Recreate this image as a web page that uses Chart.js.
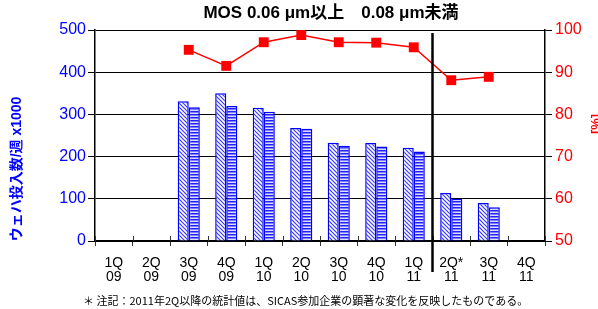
<!DOCTYPE html>
<html>
<head>
<meta charset="utf-8">
<script src="https://cdn.jsdelivr.net/npm/chart.js@4/dist/chart.umd.min.js"></script>
<style>
html,body{margin:0;padding:0;background:#fff;}
#wrap{width:598px;height:309px;position:relative;}
</style>
</head>
<body>
<div id="wrap"><canvas id="c" width="598" height="309"></canvas></div>
<script>
const quarters = ['1Q','2Q','3Q','4Q','1Q','2Q','3Q','4Q','1Q','2Q*','3Q','4Q'];
const years = ['09','09','09','09','10','10','10','10','11','11','11','11'];
const capacityA = [null, null, 331, 350, 316, 268, 233, 232, 221, 114, 90, null];
const capacityB = [null, null, 317, 320, 306, 266, 226, 224, 212, 100, 80, null];
const utilization = [null, null, 95.3, 91.5, 97.1, 98.8, 97.1, 97.0, 95.9, 88.1, 88.9, null];
const leftTicks = [0, 100, 200, 300, 400, 500];
const rightTicks = [50, 60, 70, 80, 90, 100];
const titleText = 'MOS 0.06 μm以上\u30000.08 μm未満';
const leftTitle = 'ウェハ投入数/週 x1000';
const rightTitle = '[%]';
const footnote = '＊ 注記：2011年2Q以降の統計値は、SICAS参加企業の顕著な変化を反映したものである。';

const labels = quarters.map((q, i) => [q, years[i]]);

function diagPattern() {
  const c = document.createElement('canvas');
  c.width = 4; c.height = 4;
  const g = c.getContext('2d');
  g.fillStyle = '#ffffff'; g.fillRect(0, 0, 4, 4);
  g.strokeStyle = '#3a3aff'; g.lineWidth = 1.2;
  g.beginPath();
  g.moveTo(-1, -1); g.lineTo(5, 5);
  g.moveTo(-1, 3); g.lineTo(1, 5);
  g.moveTo(3, -1); g.lineTo(5, 1);
  g.stroke();
  return g.createPattern(c, 'repeat');
}
function horizPattern() {
  const c = document.createElement('canvas');
  c.width = 4; c.height = 3;
  const g = c.getContext('2d');
  g.fillStyle = '#dcdcff'; g.fillRect(0, 0, 4, 3);
  g.fillStyle = '#2020ff'; g.fillRect(0, 0, 4, 1.5);
  return g.createPattern(c, 'repeat');
}

const extras = {
  id: 'extras',
  afterDatasetsDraw(chart) {
    const ctx = chart.ctx;
    const ca = chart.chartArea;
    const x = chart.scales.x;
    ctx.save();
    ctx.strokeStyle = '#333';
    ctx.lineWidth = 1;
    for (let i = 0; i <= quarters.length; i++) {
      const px = Math.round(x.left + (x.right - x.left) * i / quarters.length) + 0.5;
      ctx.beginPath();
      ctx.moveTo(px, ca.bottom - 5);
      ctx.lineTo(px, ca.bottom);
      ctx.stroke();
    }
    const dx = (x.getPixelForValue(8) + x.getPixelForValue(9)) / 2;
    ctx.strokeStyle = '#000';
    ctx.lineWidth = 2.5;
    ctx.beginPath();
    ctx.moveTo(dx, ca.top + 3);
    ctx.lineTo(dx, 272);
    ctx.stroke();
    ctx.restore();
  },
  afterDraw(chart) {
    const ctx = chart.ctx;
    ctx.save();
    ctx.textAlign = 'center';
    ctx.textBaseline = 'middle';
    ctx.fillStyle = '#000';
    ctx.font = 'bold 17px "Liberation Sans", "Noto Sans CJK JP", sans-serif';
    ctx.fillText(titleText, 331, 13);

    ctx.save();
    ctx.translate(17, 169);
    ctx.rotate(-Math.PI / 2);
    ctx.fillStyle = '#0000ff';
    ctx.font = 'bold 14px "Liberation Sans", "Noto Sans CJK JP", sans-serif';
    ctx.fillText(leftTitle, 0, 0);
    ctx.restore();

    ctx.save();
    ctx.translate(596, 124);
    ctx.rotate(-Math.PI / 2);
    ctx.fillStyle = '#ff0000';
    ctx.font = 'bold 13px "Liberation Sans", sans-serif';
    ctx.fillText(rightTitle, 0, 0);
    ctx.restore();

    ctx.textAlign = 'left';
    ctx.fillStyle = '#000';
    ctx.font = '11px "Noto Sans CJK JP", sans-serif';
    ctx.fillText(footnote, 83, 301);
    ctx.restore();
  }
};

new Chart(document.getElementById('c'), {
  type: 'bar',
  data: {
    labels: labels,
    datasets: [
      {
        type: 'line',
        data: utilization,
        yAxisID: 'y1',
        borderColor: '#ff0000',
        borderWidth: 1.5,
        backgroundColor: '#ff0000',
        pointStyle: 'rect',
        pointRadius: 7,
        pointBorderWidth: 0,
        pointBackgroundColor: '#ff0000',
        spanGaps: false,
        order: 0
      },
      {
        data: capacityA,
        yAxisID: 'y',
        backgroundColor: diagPattern(),
        borderColor: '#0000ff',
        borderWidth: 1.5,
        order: 1
      },
      {
        data: capacityB,
        yAxisID: 'y',
        backgroundColor: horizPattern(),
        borderColor: '#0000ff',
        borderWidth: 1.5,
        order: 1
      }
    ]
  },
  options: {
    responsive: false,
    animation: false,
    devicePixelRatio: 1,
    layout: { padding: { top: 30, right: 0, left: 0, bottom: 0 } },
    datasets: { bar: { barPercentage: 1.0, categoryPercentage: 0.59 } },
    plugins: { legend: { display: false }, tooltip: { enabled: false }, title: { display: false } },
    scales: {
      x: {
        grid: { display: true, drawOnChartArea: false, offset: true, tickLength: 5, color: '#333', lineWidth: 1 },
        border: { color: '#000', width: 1.5 },
        ticks: {
          color: '#000', autoSkip: false, maxRotation: 0, padding: 10,
          font: { family: '"Liberation Sans", Arial, sans-serif', size: 14, lineHeight: 1.0 }
        },
        afterFit(s) { s.height = 68; }
      },
      y: {
        position: 'left',
        min: 0, max: 500,
        afterBuildTicks(s) { s.ticks = leftTicks.map(v => ({ value: v })); },
        grid: { color: '#000', lineWidth: 1, tickLength: 7 },
        border: { color: '#000', width: 1.5 },
        ticks: { color: '#0000ff', padding: 2, font: { family: '"Liberation Sans", Arial, sans-serif', size: 16 } },
        afterFit(s) { s.width = 95; }
      },
      y1: {
        position: 'right',
        min: 50, max: 100,
        afterBuildTicks(s) { s.ticks = rightTicks.map(v => ({ value: v })); },
        grid: { drawOnChartArea: false, color: '#000', lineWidth: 1, tickLength: 7 },
        border: { color: '#000', width: 1.5 },
        ticks: { color: '#ff0000', padding: 3, font: { family: '"Liberation Sans", Arial, sans-serif', size: 16 } },
        afterFit(s) { s.width = 53; }
      }
    }
  },
  plugins: [extras]
});
</script>
</body>
</html>
